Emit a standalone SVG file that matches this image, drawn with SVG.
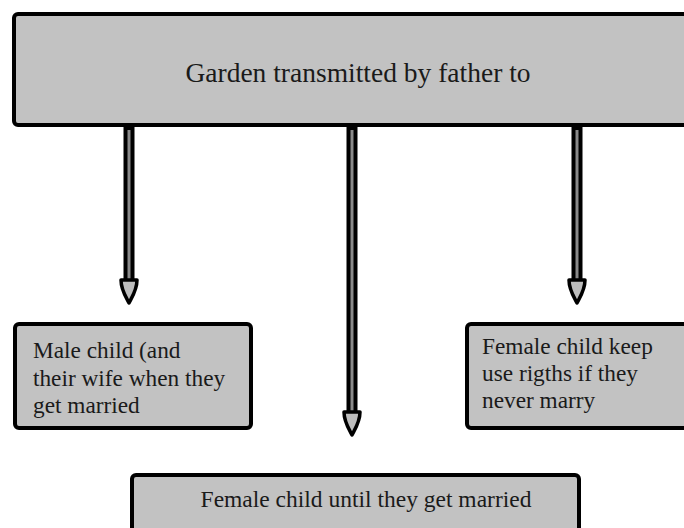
<svg xmlns="http://www.w3.org/2000/svg" width="684" height="528" viewBox="0 0 684 528">
<defs>
<style>
.box{fill:#c2c2c2;stroke:#000;stroke-width:4}
.t{font-family:"Liberation Serif","Times New Roman",serif;fill:#1a1a1a}
.shaft{stroke:#000;stroke-width:11;stroke-linecap:round;fill:none}
.core{stroke:#8a8a8a;stroke-width:3;fill:none}
.head{fill:#bdbdbd;stroke:#000;stroke-width:3.5;stroke-linejoin:round}
</style>
</defs>
<rect width="684" height="528" fill="#fff"/>
<g id="connectors">
<g id="arrow-male">
<line class="shaft" x1="129" y1="124" x2="129" y2="281"/>
<line class="core" x1="129" y1="130" x2="129" y2="283"/>
<path class="head" d="M121,280 C121,290 126,297 129,303 C132,297 137,290 137,280 Z"/>
</g>
<g id="arrow-female-until">
<line class="shaft" x1="352" y1="127" x2="352" y2="413"/>
<line class="core" x1="352" y1="130" x2="352" y2="415"/>
<path class="head" d="M344,412 C344,422 349,429 352,435 C355,429 360,422 360,412 Z"/>
</g>
<g id="arrow-female-never">
<line class="shaft" x1="577" y1="127" x2="577" y2="281"/>
<line class="core" x1="577" y1="130" x2="577" y2="283"/>
<path class="head" d="M569,280 C569,290 574,297 577,303 C580,297 585,290 585,280 Z"/>
</g>
</g>
<g id="node-top">
<rect class="box" x="14" y="14" width="690" height="111" rx="4"/>
<text class="t" x="358" y="82" font-size="27.5" text-anchor="middle">Garden transmitted by father to</text>
</g>
<g id="node-male">
<rect class="box" x="15" y="324" width="236" height="104" rx="4"/>
<text class="t" font-size="23.3"><tspan x="33" y="358">Male child (and</tspan><tspan x="33" y="386">their wife when they</tspan><tspan x="33" y="413">get married</tspan></text>
</g>
<g id="node-female-never">
<rect class="box" x="467" y="324" width="240" height="104" rx="4"/>
<text class="t" font-size="23.3"><tspan x="482" y="354">Female child keep</tspan><tspan x="482" y="381">use rigths if they</tspan><tspan x="482" y="408">never marry</tspan></text>
</g>
<g id="node-female-until">
<rect class="box" x="132" y="475" width="447" height="70" rx="4"/>
<text class="t" x="366" y="507" font-size="23.5" text-anchor="middle">Female child until they get married</text>
</g>
</svg>
